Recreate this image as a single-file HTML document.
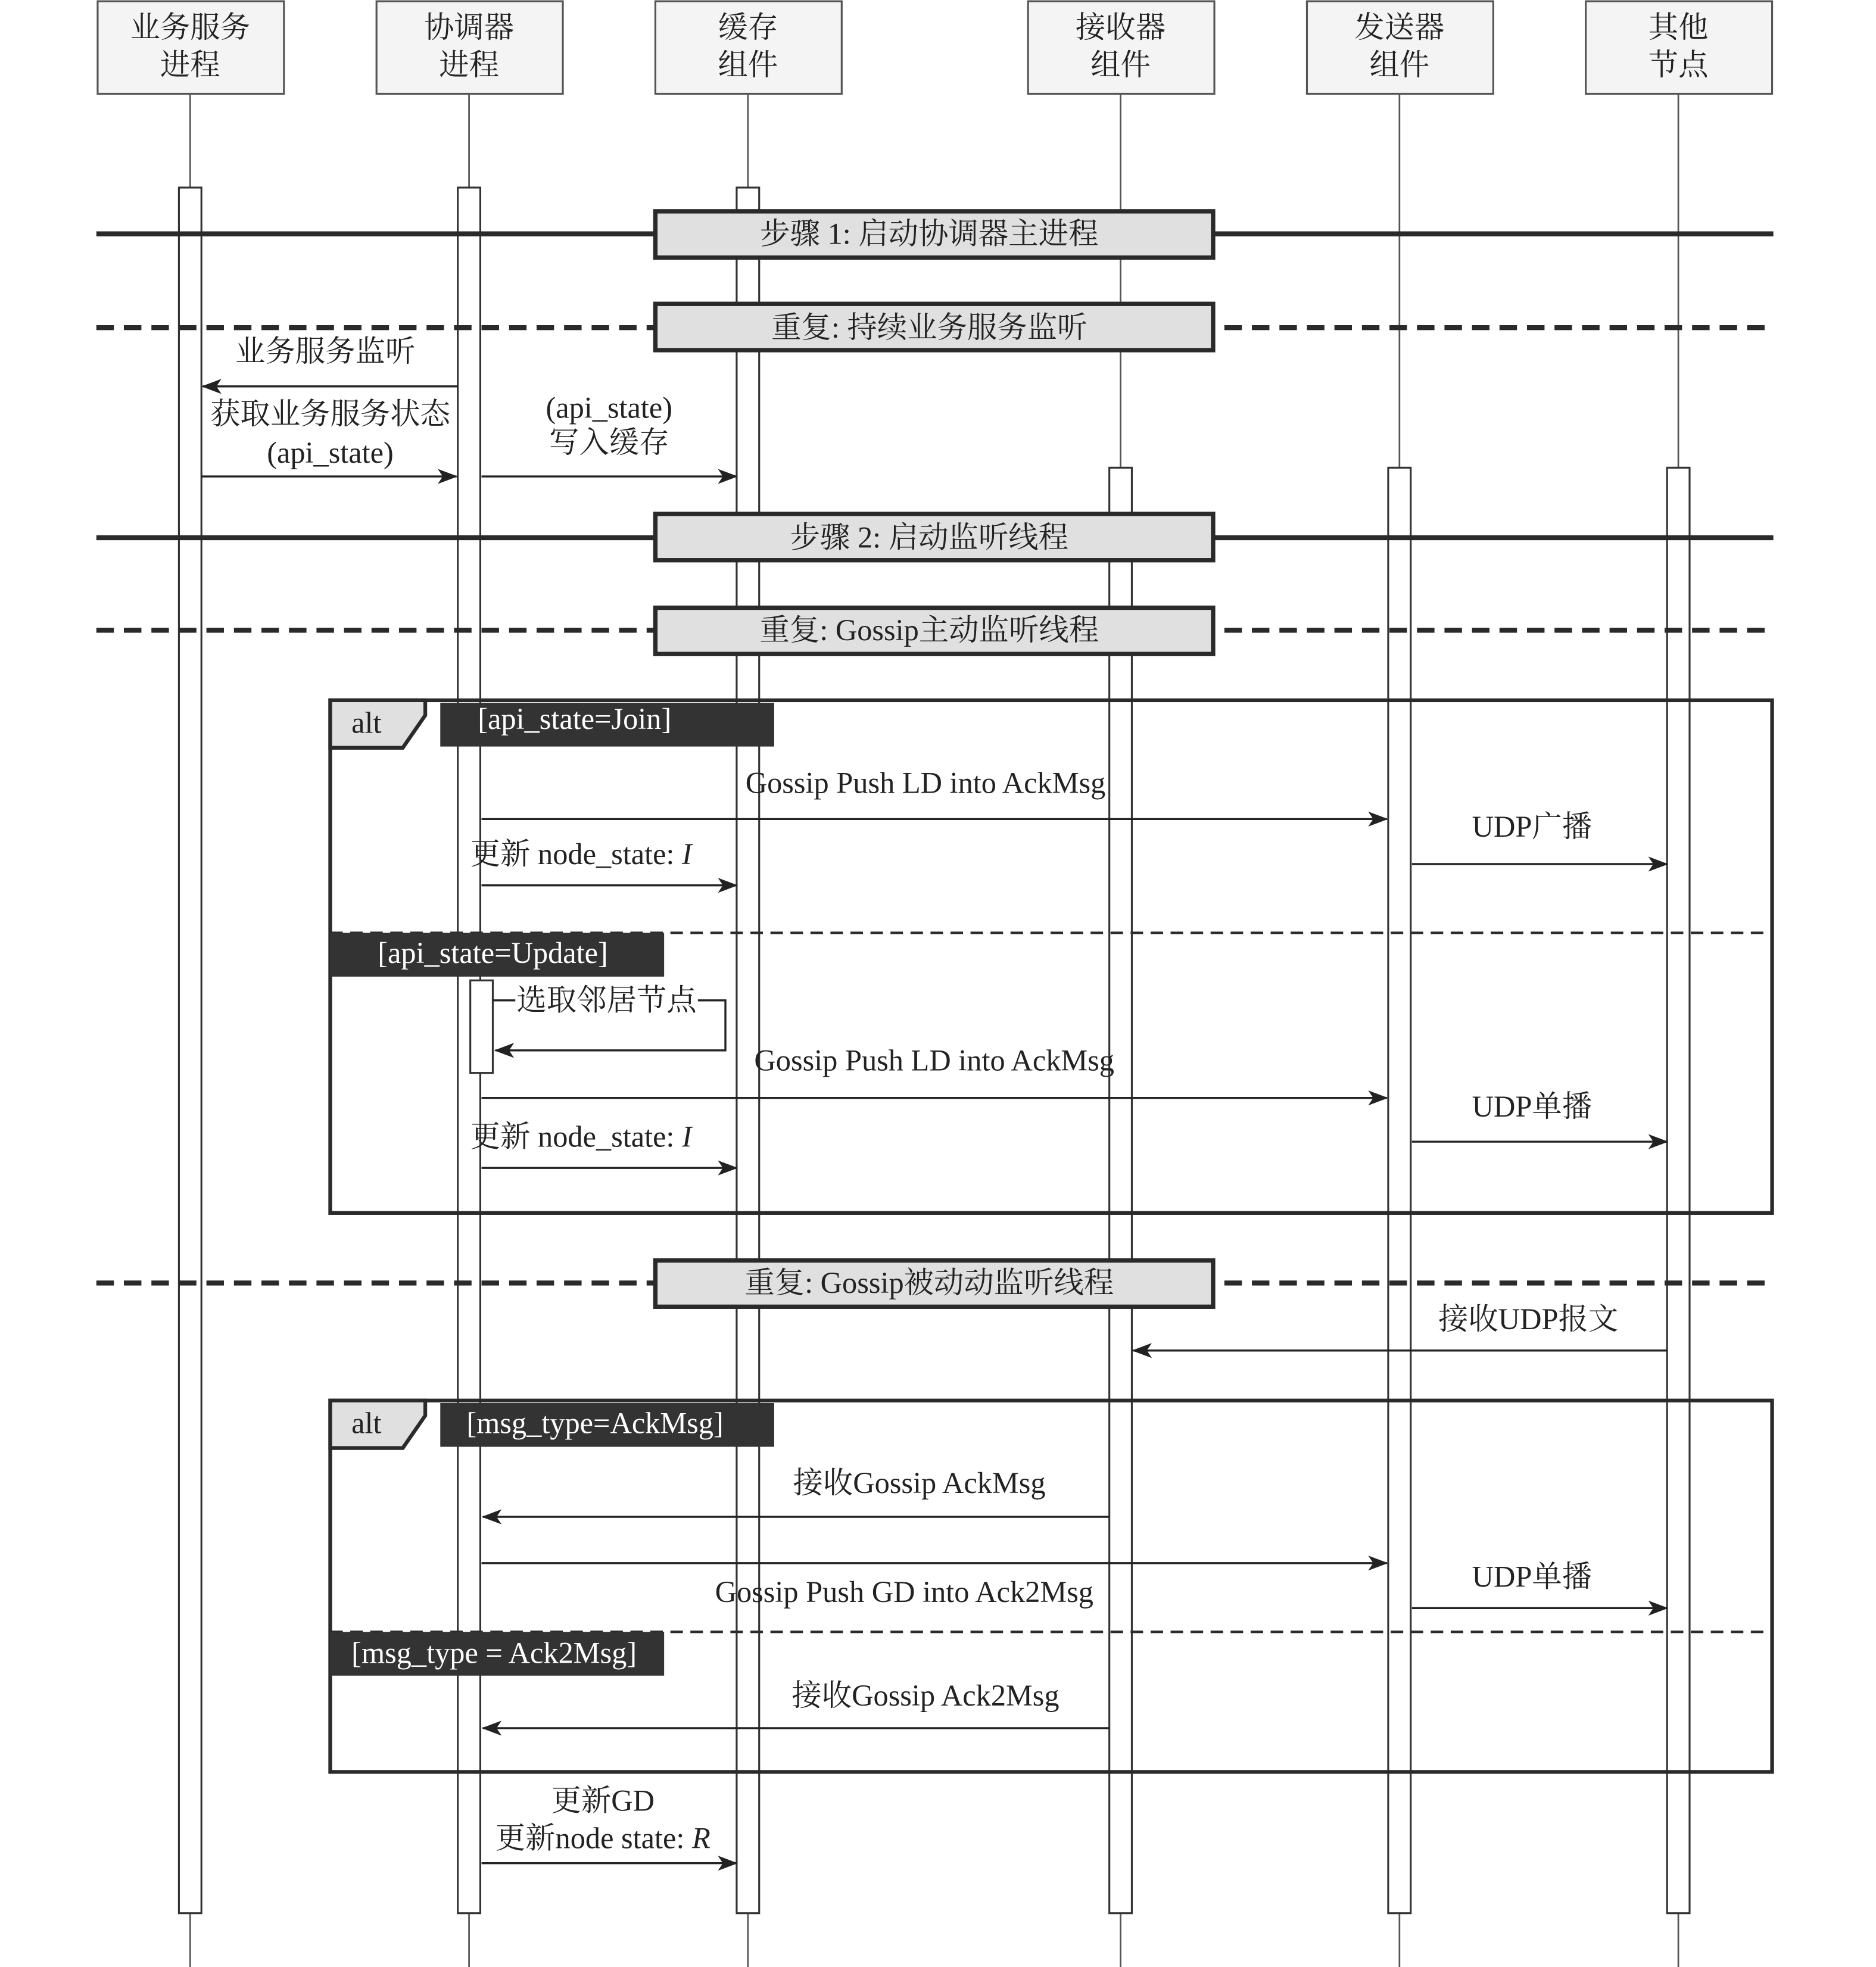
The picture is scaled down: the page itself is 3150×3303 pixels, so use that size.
<!DOCTYPE html>
<html><head><meta charset="utf-8"><style>
html,body{margin:0;padding:0;background:#fff}
svg{display:block}
text{font-family:"Liberation Serif","Noto Serif CJK SC","Noto Sans CJK SC",serif;font-size:24px;fill:#222}
</style></head><body>
<svg width="3150" height="3303" viewBox="0 0 1500 1573" xmlns="http://www.w3.org/2000/svg">
<defs>
<marker id="a" markerWidth="16" markerHeight="12" refX="15" refY="6" orient="auto" markerUnits="userSpaceOnUse">
<path d="M0,0 L16,6 L0,12 L4,6 Z" fill="#222"/></marker>
</defs>
<rect width="1500" height="1573" fill="#fff"/>
<!-- lifelines -->
<g stroke="#555" stroke-width="1.3">
<line x1="152" y1="75" x2="152" y2="1573"/>
<line x1="375" y1="75" x2="375" y2="1573"/>
<line x1="598" y1="75" x2="598" y2="1573"/>
<line x1="896" y1="75" x2="896" y2="1573"/>
<line x1="1119" y1="75" x2="1119" y2="1573"/>
<line x1="1342" y1="75" x2="1342" y2="1573"/>
</g>
<!-- headers -->
<g fill="#f4f4f4" stroke="#555" stroke-width="1.5">
<rect x="78" y="1" width="149" height="74"/>
<rect x="301" y="1" width="149" height="74"/>
<rect x="524" y="1" width="149" height="74"/>
<rect x="822" y="1" width="149" height="74"/>
<rect x="1045" y="1" width="149" height="74"/>
<rect x="1268" y="1" width="149" height="74"/>
</g>
<g text-anchor="middle">
<text x="152" y="30">业务服务</text><text x="152" y="60">进程</text>
<text x="375" y="30">协调器</text><text x="375" y="60">进程</text>
<text x="598" y="30">缓存</text><text x="598" y="60">组件</text>
<text x="896" y="30">接收器</text><text x="896" y="60">组件</text>
<text x="1119" y="30">发送器</text><text x="1119" y="60">组件</text>
<text x="1342" y="30">其他</text><text x="1342" y="60">节点</text>
</g>
<!-- activation bars -->
<g fill="#fff" stroke="#333" stroke-width="1.5">
<rect x="143" y="150" width="18" height="1380"/>
<rect x="366" y="150" width="18" height="1380"/>
<rect x="589" y="150" width="18" height="1380"/>
<rect x="887" y="374" width="18" height="1156"/>
<rect x="1110" y="374" width="18" height="1156"/>
<rect x="1333" y="374" width="18" height="1156"/>
</g>
<!-- dividers -->
<g stroke="#2a2a2a" stroke-width="4" fill="none">
<line x1="77" y1="187" x2="1418" y2="187"/>
<line x1="77" y1="430" x2="1418" y2="430"/>
<line x1="77" y1="262" x2="1418" y2="262" stroke-dasharray="14,8"/>
<line x1="77" y1="504" x2="1418" y2="504" stroke-dasharray="14,8"/>
<line x1="77" y1="1026" x2="1418" y2="1026" stroke-dasharray="14,8"/>
</g>
<g fill="#e0e0e0" stroke="#2a2a2a" stroke-width="3.5">
<rect x="524" y="169" width="446" height="37"/>
<rect x="524" y="243" width="446" height="37"/>
<rect x="524" y="411" width="446" height="37"/>
<rect x="524" y="486" width="446" height="37"/>
<rect x="524" y="1008" width="446" height="37"/>
</g>
<g text-anchor="middle">
<text x="743" y="195">步骤 1: 启动协调器主进程</text>
<text x="743" y="270">重复: 持续业务服务监听</text>
<text x="743" y="438">步骤 2: 启动监听线程</text>
<text x="743" y="512">重复: Gossip主动监听线程</text>
<text x="743" y="1034">重复: Gossip被动动监听线程</text>
</g>
<!-- messages top -->
<g stroke="#222" stroke-width="1.6" marker-end="url(#a)">
<line x1="366" y1="309" x2="162" y2="309"/>
<line x1="161" y1="381" x2="365" y2="381"/>
<line x1="385" y1="381" x2="589" y2="381"/>
</g>
<g text-anchor="middle">
<text x="260" y="289">业务服务监听</text>
<text x="264" y="339">获取业务服务状态</text>
<text x="264" y="370">(api_state)</text>
<text x="487" y="334">(api_state)</text>
<text x="487" y="362">写入缓存</text>
</g>
<!-- alt 1 -->
<g stroke="#2a2a2a" stroke-width="3" fill="none">
<rect x="264" y="560" width="1153" height="410"/>
</g>
<path d="M264,560 L340,560 L340,572 L322,598 L264,598 Z" fill="#e0e0e0" stroke="#2a2a2a" stroke-width="3"/>
<text x="281" y="586">alt</text>
<rect x="352" y="562" width="267" height="35" fill="#333"/>
<text x="382" y="583" style="fill:#fff">[api_state=Join]</text>
<line x1="264" y1="746" x2="1417" y2="746" stroke="#2a2a2a" stroke-width="2" stroke-dasharray="10,6"/>
<rect x="264" y="746" width="267" height="35" fill="#333"/>
<text x="302" y="770" style="fill:#fff">[api_state=Update]</text>
<rect x="376" y="784" width="18" height="74" fill="#fff" stroke="#333" stroke-width="1.5"/>
<g stroke="#222" stroke-width="1.6" fill="none">
<polyline points="394,800 580,800 580,840 396,840" marker-end="url(#a)"/>
<line x1="385" y1="655" x2="1109" y2="655" marker-end="url(#a)"/>
<line x1="1129" y1="691" x2="1333" y2="691" marker-end="url(#a)"/>
<line x1="385" y1="708" x2="589" y2="708" marker-end="url(#a)"/>
<line x1="385" y1="878" x2="1109" y2="878" marker-end="url(#a)"/>
<line x1="1129" y1="913" x2="1333" y2="913" marker-end="url(#a)"/>
<line x1="385" y1="934" x2="589" y2="934" marker-end="url(#a)"/>
</g>
<rect x="412" y="786" width="146" height="26" fill="#fff"/>
<text x="413" y="808">选取邻居节点</text>
<text x="740" y="634" text-anchor="middle">Gossip Push LD into AckMsg</text>
<text x="1225" y="669" text-anchor="middle">UDP广播</text>
<text x="376" y="691">更新 node_state: <tspan font-style="italic">I</tspan></text>
<text x="747" y="856" text-anchor="middle">Gossip Push LD into AckMsg</text>
<text x="1225" y="893" text-anchor="middle">UDP单播</text>
<text x="376" y="917">更新 node_state: <tspan font-style="italic">I</tspan></text>
<!-- passive -->
<line x1="1333" y1="1080" x2="906" y2="1080" stroke="#222" stroke-width="1.6" marker-end="url(#a)"/>
<text x="1222" y="1063" text-anchor="middle">接收UDP报文</text>
<!-- alt 2 -->
<rect x="264" y="1120" width="1153" height="297" fill="none" stroke="#2a2a2a" stroke-width="3"/>
<path d="M264,1120 L340,1120 L340,1132 L322,1158 L264,1158 Z" fill="#e0e0e0" stroke="#2a2a2a" stroke-width="3"/>
<text x="281" y="1146">alt</text>
<rect x="352" y="1122" width="267" height="35" fill="#333"/>
<text x="373" y="1146" style="fill:#fff">[msg_type=AckMsg]</text>
<line x1="264" y1="1305" x2="1417" y2="1305" stroke="#2a2a2a" stroke-width="2" stroke-dasharray="10,6"/>
<rect x="264" y="1305" width="267" height="35" fill="#333"/>
<text x="281" y="1330" style="fill:#fff">[msg_type = Ack2Msg]</text>
<g stroke="#222" stroke-width="1.6">
<line x1="887" y1="1213" x2="386" y2="1213" marker-end="url(#a)"/>
<line x1="385" y1="1250" x2="1109" y2="1250" marker-end="url(#a)"/>
<line x1="1129" y1="1286" x2="1333" y2="1286" marker-end="url(#a)"/>
<line x1="887" y1="1382" x2="386" y2="1382" marker-end="url(#a)"/>
<line x1="385" y1="1490" x2="589" y2="1490" marker-end="url(#a)"/>
</g>
<g text-anchor="middle">
<text x="735" y="1194">接收Gossip AckMsg</text>
<text x="723" y="1281">Gossip Push GD into Ack2Msg</text>
<text x="1225" y="1269">UDP单播</text>
<text x="740" y="1364">接收Gossip Ack2Msg</text>
<text x="482" y="1448">更新GD</text>
<text x="482" y="1478">更新node state: <tspan font-style="italic">R</tspan></text>
</g>
</svg>
</body></html>
